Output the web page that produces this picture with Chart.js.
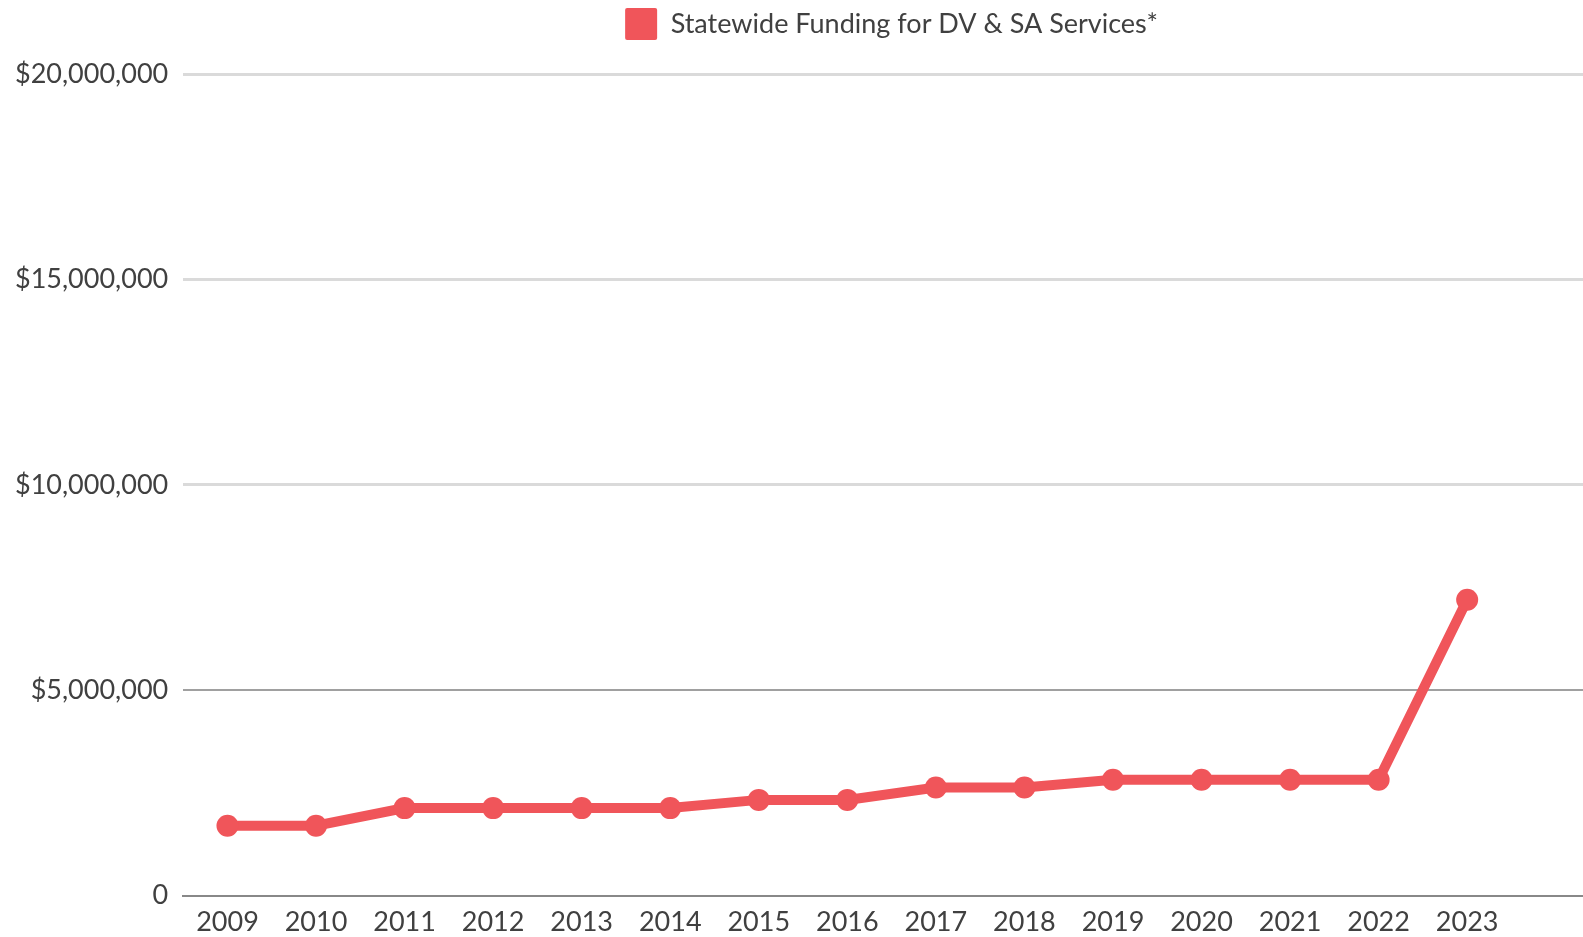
<!DOCTYPE html>
<html lang="en">
<head>
    <meta charset="UTF-8">
    <title>Statewide Funding</title>
    <style>
        html, body { margin: 0; padding: 0; background: #fff; overflow: hidden; }
        #wrap { width: 1611px; height: 948px; }
    </style>
</head>
<body>
    <div id="wrap"><canvas id="myChart" width="1611" height="948"></canvas></div>
<script src="https://cdn.jsdelivr.net/npm/chart.js@4.4.1/dist/chart.umd.min.js"></script>
<script>
    // years, plus one empty slot the axis runs on into
    var anios = ["2009","2010","2011","2012","2013","2014","2015","2016","2017","2018","2019","2020","2021","2022","2023",""];
    var fondos = [1700000, 1700000, 2130000, 2130000, 2130000, 2130000, 2330000, 2330000, 2630000, 2630000, 2820000, 2820000, 2820000, 2820000, 7200000, null];
    var marcasY = [0, 5000000, 10000000, 15000000, 20000000];

    var rojo = '#f0555a';

    // leave a gap under the legend
    var espacioLeyenda = {
        id: 'espacioLeyenda',
        beforeInit: function(chart) {
            var fitOriginal = chart.legend.fit;
            chart.legend.fit = function() {
                fitOriginal.bind(chart.legend)();
                this.height += 24;
            };
        }
    };

    var ctx = document.getElementById('myChart').getContext('2d');
    var myChart = new Chart(ctx, {
        type: 'line',
        data: {
            labels: anios,
            datasets: [{
                label: 'Statewide Funding for DV & SA Services*',
                data: fondos,
                borderColor: rojo,
                backgroundColor: rojo,
                borderWidth: 10,
                pointRadius: 11,
                pointHoverRadius: 11,
                pointBorderWidth: 0,
                tension: 0
            }]
        },
        options: {
            responsive: false,
            animation: false,
            layout: { padding: { left: 0, top: 0, right: 0, bottom: 0 } },
            plugins: {
                tooltip: { enabled: false },
                legend: {
                    position: 'top',
                    fullSize: false,
                    labels: {
                        boxWidth: 32,
                        boxHeight: 32,
                        padding: 8,
                        color: '#404040',
                        font: { family: 'Lato', size: 27 },
                        generateLabels: function(chart) {
                            var ds = chart.data.datasets[0];
                            return [{
                                text: ds.label,
                                fillStyle: rojo,
                                strokeStyle: rojo,
                                lineWidth: 0,
                                borderRadius: 2,
                                datasetIndex: 0,
                                fontColor: '#404040'
                            }];
                        }
                    }
                }
            },
            scales: {
                x: {
                    offset: true,
                    grid: { display: false, drawTicks: false },
                    border: { display: true, color: '#888888', width: 2 },
                    ticks: {
                        color: '#404040',
                        padding: 10,
                        maxRotation: 0,
                        autoSkip: false,
                        font: { family: 'Lato', size: 27 }
                    }
                },
                y: {
                    min: 0,
                    max: 20000000,
                    afterBuildTicks: function(axis) {
                        axis.ticks = marcasY.map(function(v) { return { value: v }; });
                    },
                    border: { display: false },
                    grid: {
                        drawTicks: false,
                        color: function(c) {
                            if (c.tick && c.tick.value === 0) return '#888888';
                            if (c.tick && c.tick.value === 5000000) return '#a0a0a0';
                            return '#dadada';
                        },
                        lineWidth: function(c) {
                            if (c.tick && (c.tick.value === 0 || c.tick.value === 5000000)) return 2;
                            return 3;
                        }
                    },
                    ticks: {
                        color: '#404040',
                        padding: 15,
                        font: { family: 'Lato', size: 27 },
                        callback: function(v) {
                            if (v === 0) return '0';
                            return '$' + v.toLocaleString('en-US');
                        }
                    }
                }
            }
        },
        plugins: [espacioLeyenda]
    });
</script>
</body>
</html>
